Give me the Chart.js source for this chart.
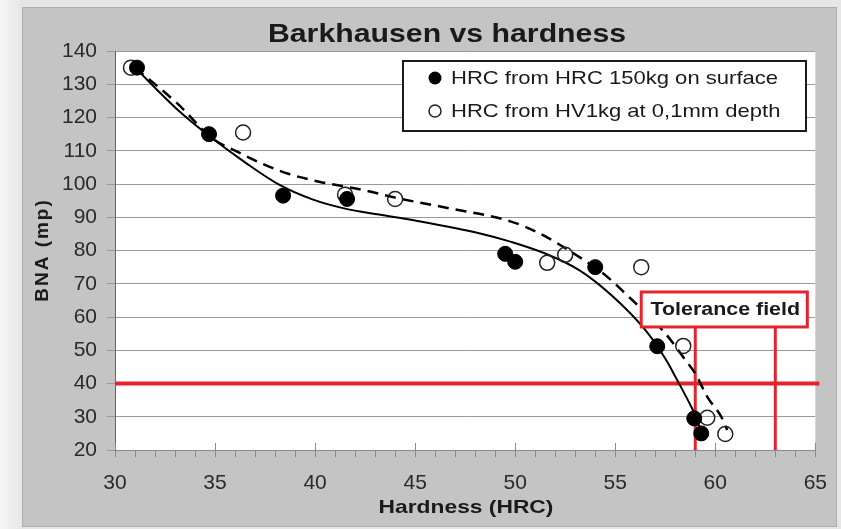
<!DOCTYPE html>
<html>
<head>
<meta charset="utf-8">
<script src="https://cdn.jsdelivr.net/npm/chart.js@4"></script>
<style>
html, body { margin: 0; padding: 0; background: #efefef; }
</style>
</head>
<body>
<canvas id="bnaChart" width="841" height="529"></canvas>
<script>
// measured points, HRC 150kg on surface
const hrcSurface = [31.1, 34.7, 38.4, 41.6, 49.5, 50.0, 54.0, 57.1, 58.95, 59.3];
const bnaSurface = [135, 115, 96.5, 95.5, 79, 76.6, 75, 51.2, 29.5, 25];
// measured points, HV1kg at 0,1mm depth
const hrcDepth = [30.8, 36.4, 41.5, 44.0, 51.6, 52.5, 56.3, 58.4, 59.6, 60.5];
const bnaDepth = [135, 115.5, 96.8, 95.5, 76.3, 78.7, 75, 51.3, 29.7, 24.8];

// trend lines
const trendSurfaceX = [31.0, 33.1, 34.7, 36.5, 38.2, 39.9, 41.5, 43.2, 45.0, 48.2, 49.8, 51.5, 53.2, 54.8, 56.5, 57.5, 58.1, 58.8, 59.1, 59.3];
const trendSurfaceY = [135, 122.5, 114.5, 106.5, 99.8, 95.3, 92.6, 90.8, 89.0, 85.2, 82.6, 79.1, 74.1, 66.6, 56.1, 47.5, 41, 33, 29, 25];
const trendDepthX = [31.0, 33.1, 34.9, 36.05, 37.4, 38.7, 40.2, 42.4, 44.0, 46.7, 49.8, 51.2, 52.9, 54.5, 55.5, 57.5, 58.5, 59.0, 59.6, 60.3, 60.6];
const trendDepthY = [135, 124.3, 113.6, 109.9, 106.0, 103.0, 100.7, 98.2, 95.9, 92.7, 88.7, 85.2, 79.2, 72.6, 67.1, 55.1, 47.1, 43, 36, 30, 26];

const limitBNA = 40;
const toleranceHRC = [59, 63];
const toleranceTop = 57;

const xTicks = [30, 35, 40, 45, 50, 55, 60, 65];
const yTicks = [20, 30, 40, 50, 60, 70, 80, 90, 100, 110, 120, 130, 140];

const font = '"Liberation Sans", Arial, sans-serif';
const red = '#e4242c';

function pts(xs, ys) {
    return xs.map((x, i) => ({ x: x, y: ys[i] }));
}

// the source picture is a little stretched sideways, so text is widened
function wideText(ctx, text, x, y, sx) {
    ctx.save();
    ctx.translate(x, y);
    ctx.scale(sx, 1);
    ctx.fillText(text, 0, 0);
    ctx.restore();
}

const decorPlugin = {
    id: 'decor',
    beforeDraw(chart) {
        const ctx = chart.ctx, a = chart.chartArea;
        ctx.save();
        const g = ctx.createLinearGradient(0, 0, 22, 0);
        g.addColorStop(0, '#f6f6f6');
        g.addColorStop(1, '#e6e6e6');
        ctx.fillStyle = g;
        ctx.fillRect(0, 0, 841, 529);
        ctx.fillStyle = '#c4c4c4';
        ctx.fillRect(22, 7, 815, 520);
        ctx.strokeStyle = '#adadad';
        ctx.lineWidth = 1;
        ctx.strokeRect(22.5, 7.5, 814, 519);
        ctx.fillStyle = '#ffffff';
        ctx.fillRect(a.left, a.top, a.right - a.left, a.bottom - a.top);
        ctx.restore();
    },
    afterDatasetsDraw(chart) {
        const ctx = chart.ctx, a = chart.chartArea;
        const xs = chart.scales.x, ys = chart.scales.y;
        ctx.save();
        // major ticks crossing up into the plot
        ctx.strokeStyle = '#888';
        ctx.lineWidth = 1;
        xTicks.forEach(v => {
            const px = Math.round(xs.getPixelForValue(v)) + 0.5;
            ctx.beginPath();
            ctx.moveTo(px, a.bottom);
            ctx.lineTo(px, a.bottom - 7);
            ctx.stroke();
        });

        // tolerance field label
        const l = xs.getPixelForValue(56.3), r = xs.getPixelForValue(64.6);
        const b = ys.getPixelForValue(toleranceTop), t = b - 35;
        ctx.fillStyle = '#fff';
        ctx.fillRect(l, t, r - l, b - t);
        ctx.strokeStyle = red;
        ctx.lineWidth = 3;
        ctx.strokeRect(l, t, r - l, b - t);
        ctx.fillStyle = '#1a1a1a';
        ctx.font = 'bold 18px ' + font;
        ctx.textAlign = 'center';
        ctx.textBaseline = 'middle';
        wideText(ctx, 'Tolerance field', (l + r) / 2 + 1, (t + b) / 2 + 1, 1.19);

        // legend
        ctx.fillStyle = '#fff';
        ctx.fillRect(402, 60, 405, 72);
        ctx.strokeStyle = '#1a1a1a';
        ctx.lineWidth = 2;
        ctx.strokeRect(403, 61, 403, 70);
        ctx.fillStyle = '#000';
        ctx.beginPath();
        ctx.arc(435, 78, 6.5, 0, Math.PI * 2);
        ctx.fill();
        ctx.strokeStyle = '#222';
        ctx.lineWidth = 1.5;
        ctx.beginPath();
        ctx.arc(435, 111, 6, 0, Math.PI * 2);
        ctx.stroke();
        ctx.fillStyle = '#1a1a1a';
        ctx.font = '19px ' + font;
        ctx.textAlign = 'left';
        wideText(ctx, 'HRC from HRC 150kg on surface', 451, 79, 1.16);
        wideText(ctx, 'HRC from HV1kg at 0,1mm depth', 451, 112, 1.16);
        ctx.restore();
    },
    afterDraw(chart) {
        const ctx = chart.ctx;
        ctx.save();
        ctx.fillStyle = '#1a1a1a';
        ctx.textAlign = 'center';
        ctx.textBaseline = 'middle';
        ctx.font = 'bold 25px ' + font;
        wideText(ctx, 'Barkhausen vs hardness', 447, 35, 1.21);
        ctx.font = 'bold 19px ' + font;
        wideText(ctx, 'Hardness (HRC)', 466, 508, 1.2);
        ctx.translate(43, 250);
        ctx.rotate(-Math.PI / 2);
        ctx.letterSpacing = '2px';
        ctx.fillText('BNA (mp)', 0, 0);
        ctx.restore();
    }
};

new Chart(document.getElementById('bnaChart'), {
    type: 'scatter',
    data: {
        datasets: [
            {
                label: 'HRC from HRC 150kg on surface',
                data: pts(hrcSurface, bnaSurface),
                pointRadius: 7.5,
                backgroundColor: '#000',
                borderColor: '#000',
                borderWidth: 1,
                order: 1
            },
            {
                label: 'HRC from HV1kg at 0,1mm depth',
                data: pts(hrcDepth, bnaDepth),
                pointRadius: 7.5,
                backgroundColor: 'rgba(255,255,255,0)',
                borderColor: '#222',
                borderWidth: 1.5,
                order: 2
            },
            {
                label: 'trend surface',
                data: pts(trendSurfaceX, trendSurfaceY),
                showLine: true,
                pointRadius: 0,
                borderColor: '#000',
                borderWidth: 2,
                cubicInterpolationMode: 'monotone',
                order: 3
            },
            {
                label: 'trend depth',
                data: pts(trendDepthX, trendDepthY),
                showLine: true,
                pointRadius: 0,
                borderColor: '#000',
                borderWidth: 2.5,
                borderDash: [11, 7],
                cubicInterpolationMode: 'monotone',
                order: 4
            },
            {
                label: 'limit',
                data: [{ x: 30, y: limitBNA }, { x: 65.2, y: limitBNA }],
                showLine: true,
                pointRadius: 0,
                borderColor: red,
                borderWidth: 4,
                clip: false,
                order: 5
            },
            {
                label: 'tol low',
                data: [{ x: toleranceHRC[0], y: 20 }, { x: toleranceHRC[0], y: toleranceTop }],
                showLine: true,
                pointRadius: 0,
                borderColor: red,
                borderWidth: 3,
                order: 6
            },
            {
                label: 'tol high',
                data: [{ x: toleranceHRC[1], y: 20 }, { x: toleranceHRC[1], y: toleranceTop }],
                showLine: true,
                pointRadius: 0,
                borderColor: red,
                borderWidth: 3,
                order: 7
            }
        ]
    },
    options: {
        responsive: false,
        animation: false,
        devicePixelRatio: 1,
        layout: { padding: { left: 0, right: 23, top: 51, bottom: 0 } },
        plugins: {
            legend: { display: false },
            title: { display: false },
            tooltip: { enabled: false }
        },
        scales: {
            x: {
                type: 'linear',
                min: 30,
                max: 65,
                afterFit(scale) { scale.height = 79; },
                ticks: {
                    stepSize: 1,
                    autoSkip: false,
                    maxRotation: 0,
                    padding: 14,
                    color: '#2a2a2a',
                    font: { family: font, size: 21 },
                    callback: v => xTicks.includes(v) ? v : ''
                },
                grid: { drawOnChartArea: false, tickLength: 7, color: '#8a8a8a' },
                border: { color: '#8a8a8a' }
            },
            y: {
                min: 20,
                max: 140,
                afterFit(scale) { scale.width = 115; },
                ticks: {
                    stepSize: 10,
                    padding: 10,
                    color: '#2a2a2a',
                    font: { family: font, size: 21 },
                    callback: v => yTicks.includes(v) ? v : ''
                },
                grid: { color: '#9a9a9a', tickLength: 8 },
                border: { color: '#666' }
            }
        }
    },
    plugins: [decorPlugin]
});
</script>
</body>
</html>
